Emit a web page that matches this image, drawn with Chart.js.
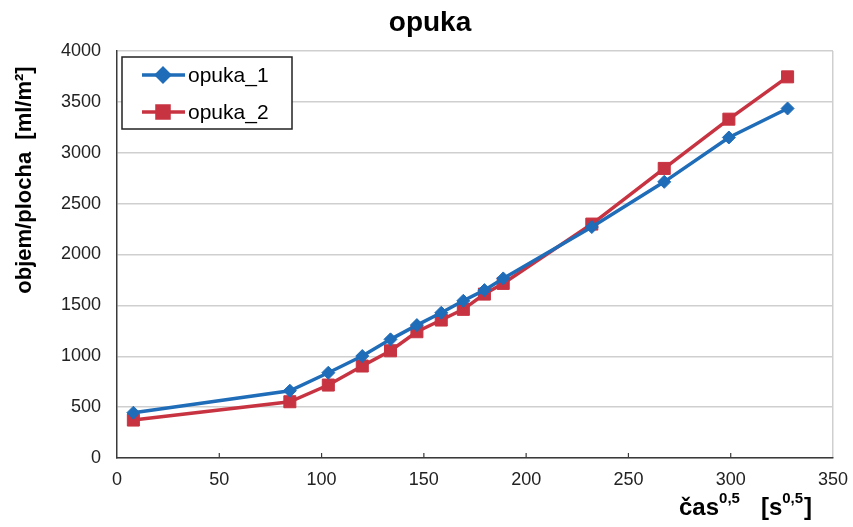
<!DOCTYPE html>
<html>
<head>
<meta charset="utf-8">
<script src="https://cdn.jsdelivr.net/npm/chart.js@4"></script>
<style>
  html, body { margin: 0; padding: 0; background: #fff; }
  #wrap { width: 853px; height: 527px; }
</style>
</head>
<body>
<div id="wrap"><canvas id="graf" width="853" height="527"></canvas></div>
<script>
// hodnoty
const cas = [8, 84.5, 103.3, 119.9, 133.7, 146.6, 158.5, 169.3, 179.6, 188.8, 232.1, 267.5, 299.1, 327.8];
const opuka1 = [445, 661, 838, 1002, 1166, 1306, 1427, 1545, 1650, 1765, 2270, 2714, 3150, 3435];
const opuka2 = [373, 553, 717, 904, 1054, 1241, 1356, 1461, 1611, 1716, 2299, 2846, 3330, 3746];
const nazvy = ['opuka_1', 'opuka_2'];
const xTicks = [0, 50, 100, 150, 200, 250, 300, 350];
const yTicks = [0, 500, 1000, 1500, 2000, 2500, 3000, 3500, 4000];

const modra = '#1f6cb8';
const cervena = '#c83341';
const pismo = "'Liberation Sans', Arial, sans-serif";

function body(xs, ys) {
    return xs.map((x, i) => ({ x: x, y: ys[i] }));
}

// popisky, legenda, nadpis a drobné značky na osách
const popisky = {
    id: 'popisky',
    afterDraw(chart) {
        const ctx = chart.ctx;
        const a = chart.chartArea;
        ctx.save();

        // značky dovnitř grafu
        ctx.strokeStyle = '#3a3a3a';
        ctx.lineWidth = 1.2;
        xTicks.slice(1, -1).forEach(v => {
            const px = chart.scales.x.getPixelForValue(v);
            ctx.beginPath();
            ctx.moveTo(px, a.bottom);
            ctx.lineTo(px, a.bottom - 5);
            ctx.stroke();
        });

        ctx.fillStyle = '#000';

        // nadpis
        ctx.font = 'bold 28px ' + pismo;
        ctx.textAlign = 'center';
        ctx.textBaseline = 'middle';
        ctx.fillText('opuka', 430, 23);

        // osa y
        ctx.save();
        ctx.translate(25, 180);
        ctx.rotate(-Math.PI / 2);
        ctx.font = 'bold 22px ' + pismo;
        ctx.fillText('objem/plocha  [ml/m²]', 0, 0);
        ctx.restore();

        // osa x s exponenty
        ctx.textAlign = 'left';
        ctx.textBaseline = 'alphabetic';
        let x = 679;
        const casti = [['čas', 0], ['0,5', 1], ['   [s', 0], ['0,5', 1], [']', 0]];
        casti.forEach(([t, sup]) => {
            ctx.font = sup ? 'bold 15px ' + pismo : 'bold 24px ' + pismo;
            ctx.fillText(t, x, sup ? 503 : 515);
            x += ctx.measureText(t).width + (sup ? 1 : 0);
        });

        // legenda
        const lx = a.left + 5, ly = a.top + 6, lw = 170, lh = 72;
        ctx.fillStyle = '#fff';
        ctx.fillRect(lx, ly, lw, lh);
        ctx.strokeStyle = '#222';
        ctx.lineWidth = 1.5;
        ctx.strokeRect(lx, ly, lw, lh);
        chart.data.datasets.forEach((ds, i) => {
            const yy = ly + 18 + i * 37;
            ctx.strokeStyle = ds.borderColor;
            ctx.lineWidth = 3.5;
            ctx.beginPath();
            ctx.moveTo(lx + 20, yy);
            ctx.lineTo(lx + 63, yy);
            ctx.stroke();
            ctx.fillStyle = ds.borderColor;
            ctx.strokeStyle = ds.borderColor;
            Chart.helpers.drawPoint(ctx, {
                pointStyle: ds.pointStyle,
                radius: ds.pointRadius,
                borderWidth: 1
            }, lx + 41, yy);
            ctx.fillStyle = '#000';
            ctx.font = '21px ' + pismo;
            ctx.textBaseline = 'middle';
            ctx.fillText(ds.label, lx + 66, yy + 1);
        });
        ctx.restore();
    }
};

new Chart(document.getElementById('graf'), {
    type: 'line',
    data: {
        datasets: [
            {
                label: nazvy[0],
                data: body(cas, opuka1),
                borderColor: modra,
                backgroundColor: modra,
                borderWidth: 3.5,
                pointStyle: 'rectRot',
                pointRadius: 6.5,
                pointBorderWidth: 1,
                tension: 0
            },
            {
                label: nazvy[1],
                data: body(cas, opuka2),
                borderColor: cervena,
                backgroundColor: cervena,
                borderWidth: 3.5,
                pointStyle: 'rect',
                pointRadius: 8.5,
                pointBorderWidth: 1,
                tension: 0
            }
        ]
    },
    options: {
        responsive: false,
        animation: false,
        layout: { padding: { left: 0, top: 51, right: 20, bottom: 0 } },
        plugins: {
            legend: { display: false },
            title: { display: false },
            tooltip: { enabled: false }
        },
        scales: {
            x: {
                type: 'linear',
                min: 0,
                max: 350,
                afterBuildTicks: s => { s.ticks = xTicks.map(v => ({ value: v })); },
                afterFit: s => { s.height = 69; s.paddingLeft = 0; s.paddingRight = 0; },
                ticks: {
                    color: '#222', font: { family: pismo, size: 18 }, padding: 11, maxRotation: 0,
                    callback: v => String(v)
                },
                grid: {
                    drawTicks: false,
                    color: c => c.tick && c.tick.value === 350 ? '#cfcfcf' : 'rgba(0,0,0,0)',
                    lineWidth: 1.5
                },
                border: { color: '#3a3a3a', width: 1.5 }
            },
            y: {
                min: 0,
                max: 4000,
                afterBuildTicks: s => { s.ticks = yTicks.map(v => ({ value: v })); },
                afterFit: s => { s.width = 117; s.paddingTop = 0; s.paddingBottom = 0; },
                ticks: {
                    color: '#222', font: { family: pismo, size: 18 }, padding: 16,
                    callback: v => String(v)
                },
                grid: { drawTicks: false, color: '#cfcfcf', lineWidth: 1.5 },
                border: { color: '#3a3a3a', width: 1.5 }
            }
        }
    },
    plugins: [popisky]
});
</script>
</body>
</html>
